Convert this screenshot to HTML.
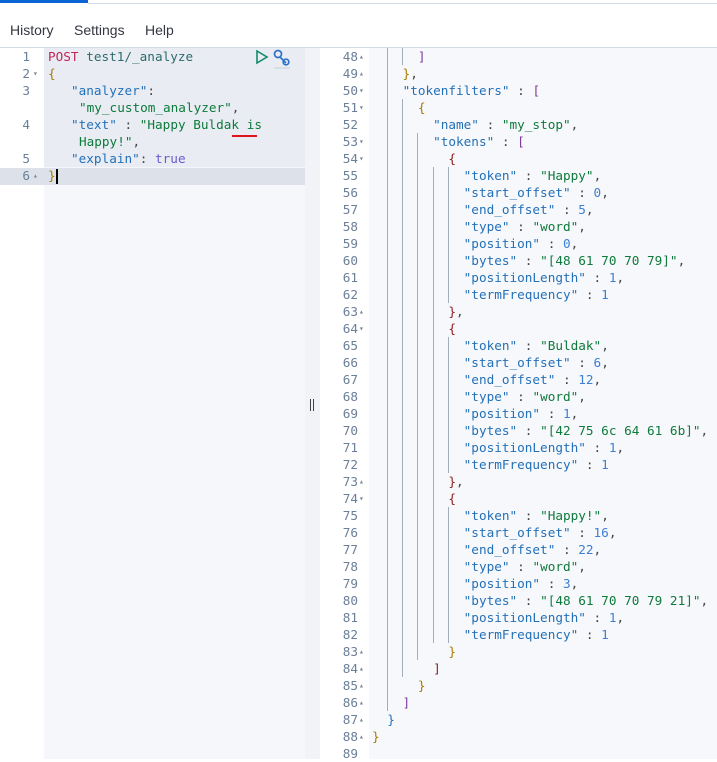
<!DOCTYPE html>
<html><head><meta charset="utf-8"><style>
*{margin:0;padding:0;box-sizing:border-box}
body{width:717px;height:759px;overflow:hidden;background:#fff;position:relative;font-family:"Liberation Sans",sans-serif}
.abs{position:absolute}
.mono{font-family:"DejaVu Sans Mono","Liberation Mono",monospace;font-size:12.7px;line-height:17px;white-space:pre}
.k{color:#2370b8}.s{color:#0e7a3c}.n{color:#3d7fd4}.p{color:#444}.t{color:#6a5ad0}
.b1{color:#a77b00}.b2{color:#7a3a9c}.b3{color:#8e1b1b}.b4{color:#2370b8}
.ln{color:#6b7f99;text-align:right}
.g{position:absolute;width:1px;background:#a4adbb}
.ar{font-size:8px;color:#7a8596}
</style></head><body>
<div class="abs" style="left:0;top:0;width:88px;height:3px;background:#0b64d4"></div>
<div class="abs" style="left:88px;top:3px;width:629px;height:1px;background:#d3dae6"></div>
<div class="abs" style="left:0;top:22px;font-size:14px;color:#343741">
<span class="abs" style="left:10px">History</span><span class="abs" style="left:74px">Settings</span><span class="abs" style="left:145px">Help</span></div>

<div class="abs" style="left:0;top:48px;width:305px;height:711px;background:#f5f7fa"></div>
<div class="abs" style="left:0;top:48px;width:44px;height:711px;background:#fff"></div>
<div class="abs" style="left:44px;top:48px;width:261px;height:119px;background:#e9edf3"></div>
<div class="abs" style="left:0;top:168px;width:305px;height:17px;background:#dde2ea"></div>
<div class="abs" style="left:0;top:47px;width:717px;height:1px;background:#d3dae6"></div>
<div class="abs mono ln" style="left:0;top:48px;width:30px">1
2
3

4

5
6</div>
<div class="abs mono ar" style="left:33px;top:48px;line-height:17px">&nbsp;
▾
&nbsp;
&nbsp;
&nbsp;
&nbsp;
&nbsp;
▴</div>
<div class="abs mono" style="left:48px;top:48px"><span style="color:#c0265a">POST</span> <span style="color:#2d6b6b">test1/_analyze</span>
<span class="b1">{</span></div>
<div class="abs mono" style="left:71px;top:82px"><span class="k">"analyzer"</span><span class="p">:</span></div>
<div class="abs mono" style="left:79px;top:99px"><span class="s">"my_custom_analyzer"</span><span class="p">,</span></div>
<div class="abs mono" style="left:71px;top:116px"><span class="k">"text"</span><span class="p"> : </span><span class="s">"Happy Buldak is</span></div>
<div class="abs mono" style="left:79px;top:133px"><span class="s">Happy!"</span><span class="p">,</span></div>
<div class="abs mono" style="left:71px;top:150px"><span class="k">"explain"</span><span class="p">: </span><span class="t">true</span></div>
<div class="abs mono" style="left:48px;top:167px"><span class="b1">}</span></div>
<div class="abs" style="left:56px;top:169px;width:2px;height:15px;background:#000"></div>
<div class="abs" style="left:232px;top:135px;width:25px;height:2px;background:#e0141e"></div>
<svg class="abs" style="left:254px;top:49px" width="40" height="20">
<path d="M3 2 L13 8 L3 14 Z" fill="none" stroke="#148a6a" stroke-width="1.6"/>
<g fill="none" stroke="#2e72c8" stroke-width="1.7"><circle cx="24" cy="5" r="3.5"/><line x1="26" y1="8" x2="32" y2="14"/><circle cx="32" cy="13" r="2.8"/></g>
<line x1="20" y1="19" x2="36" y2="19" stroke="#c9d0da"/>
</svg>

<div class="abs" style="left:305px;top:48px;width:15px;height:711px;background:#f1f3f7"></div>
<div class="abs" style="left:310px;top:399px;width:1px;height:12px;background:#444"></div>
<div class="abs" style="left:313px;top:399px;width:1px;height:12px;background:#444"></div>

<div class="abs" style="left:320px;top:48px;width:49px;height:711px;background:#fff"></div>
<div class="abs" style="left:369px;top:48px;width:348px;height:711px;background:#f7f8fb"></div>
<div class="abs mono ln" style="left:320px;top:48px;width:38px">48
49
50
51
52
53
54
55
56
57
58
59
60
61
62
63
64
65
66
67
68
69
70
71
72
73
74
75
76
77
78
79
80
81
82
83
84
85
86
87
88
89</div>
<div class="abs mono ar" style="left:359px;top:48px;line-height:17px">▴
▴
▾
▾
&nbsp;
▾
▾
&nbsp;
&nbsp;
&nbsp;
&nbsp;
&nbsp;
&nbsp;
&nbsp;
&nbsp;
▴
▾
&nbsp;
&nbsp;
&nbsp;
&nbsp;
&nbsp;
&nbsp;
&nbsp;
&nbsp;
▴
▾
&nbsp;
&nbsp;
&nbsp;
&nbsp;
&nbsp;
&nbsp;
&nbsp;
&nbsp;
▴
▴
▴
▴
▴
▴</div>

<div class="g" style="left:387px;top:48px;height:663px"></div>
<div class="g" style="left:402px;top:48px;height:17px"></div>
<div class="g" style="left:402px;top:99px;height:578px"></div>
<div class="g" style="left:417px;top:133px;height:527px"></div>
<div class="g" style="left:433px;top:167px;height:476px"></div>
<div class="g" style="left:448px;top:167px;height:136px"></div>
<div class="g" style="left:448px;top:337px;height:136px"></div>
<div class="g" style="left:448px;top:507px;height:136px"></div>

<div class="abs mono" style="left:372px;top:48px"><span class="b2">      ]</span>
<span class="b1">    }</span><span class="p">,</span>
    <span class="k">"tokenfilters"</span><span class="p"> : </span><span class="b2">[</span>
<span class="b1">      {</span>
        <span class="k">"name"</span><span class="p"> : </span><span class="s">"my_stop"</span><span class="p">,</span>
        <span class="k">"tokens"</span><span class="p"> : </span><span class="b2">[</span>
<span class="b3">          {</span>
            <span class="k">"token"</span><span class="p"> : </span><span class="s">"Happy"</span><span class="p">,</span>
            <span class="k">"start_offset"</span><span class="p"> : </span><span class="n">0</span><span class="p">,</span>
            <span class="k">"end_offset"</span><span class="p"> : </span><span class="n">5</span><span class="p">,</span>
            <span class="k">"type"</span><span class="p"> : </span><span class="s">"word"</span><span class="p">,</span>
            <span class="k">"position"</span><span class="p"> : </span><span class="n">0</span><span class="p">,</span>
            <span class="k">"bytes"</span><span class="p"> : </span><span class="s">"[48 61 70 70 79]"</span><span class="p">,</span>
            <span class="k">"positionLength"</span><span class="p"> : </span><span class="n">1</span><span class="p">,</span>
            <span class="k">"termFrequency"</span><span class="p"> : </span><span class="n">1</span>
<span class="b3">          }</span><span class="p">,</span>
<span class="b3">          {</span>
            <span class="k">"token"</span><span class="p"> : </span><span class="s">"Buldak"</span><span class="p">,</span>
            <span class="k">"start_offset"</span><span class="p"> : </span><span class="n">6</span><span class="p">,</span>
            <span class="k">"end_offset"</span><span class="p"> : </span><span class="n">12</span><span class="p">,</span>
            <span class="k">"type"</span><span class="p"> : </span><span class="s">"word"</span><span class="p">,</span>
            <span class="k">"position"</span><span class="p"> : </span><span class="n">1</span><span class="p">,</span>
            <span class="k">"bytes"</span><span class="p"> : </span><span class="s">"[42 75 6c 64 61 6b]"</span><span class="p">,</span>
            <span class="k">"positionLength"</span><span class="p"> : </span><span class="n">1</span><span class="p">,</span>
            <span class="k">"termFrequency"</span><span class="p"> : </span><span class="n">1</span>
<span class="b3">          }</span><span class="p">,</span>
<span class="b3">          {</span>
            <span class="k">"token"</span><span class="p"> : </span><span class="s">"Happy!"</span><span class="p">,</span>
            <span class="k">"start_offset"</span><span class="p"> : </span><span class="n">16</span><span class="p">,</span>
            <span class="k">"end_offset"</span><span class="p"> : </span><span class="n">22</span><span class="p">,</span>
            <span class="k">"type"</span><span class="p"> : </span><span class="s">"word"</span><span class="p">,</span>
            <span class="k">"position"</span><span class="p"> : </span><span class="n">3</span><span class="p">,</span>
            <span class="k">"bytes"</span><span class="p"> : </span><span class="s">"[48 61 70 70 79 21]"</span><span class="p">,</span>
            <span class="k">"positionLength"</span><span class="p"> : </span><span class="n">1</span><span class="p">,</span>
            <span class="k">"termFrequency"</span><span class="p"> : </span><span class="n">1</span>
<span class="b1">          }</span>
<span class="b3">        ]</span>
<span class="b1">      }</span>
<span class="b2">    ]</span>
<span class="b4">  }</span>
<span class="b1">}</span>
</div>
</body></html>
